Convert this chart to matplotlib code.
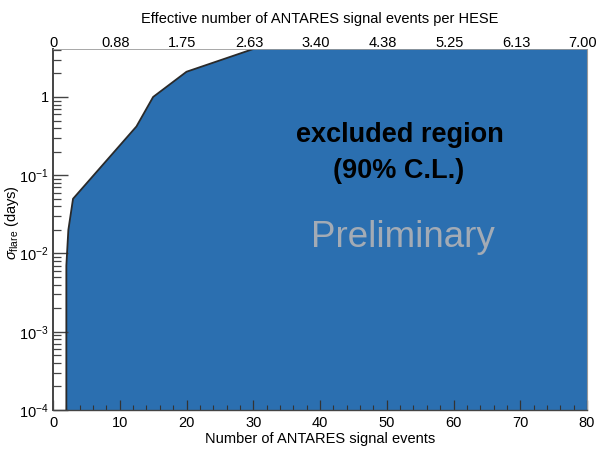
import matplotlib
matplotlib.use("Agg")
import matplotlib.pyplot as plt
import matplotlib.transforms as mtransforms
from matplotlib.ticker import LogLocator, FixedLocator, NullFormatter

plt.rcParams['font.family'] = ['Liberation Sans', 'DejaVu Sans']
plt.rcParams['mathtext.fontset'] = 'custom'
plt.rcParams['mathtext.rm'] = 'Liberation Sans'
plt.rcParams['mathtext.it'] = 'Liberation Sans:italic'

# exclusion contour: signal events vs flare width
n_events = [2.0, 2.0, 2.3, 3.0, 12.5, 15.0, 20.0, 30.0]
sigma_flare = [1e-4, 0.007, 0.02, 0.05, 0.42, 1.0, 2.1, 4.1]

x_ticks = [0, 10, 20, 30, 40, 50, 60, 70, 80]
top_labels = ['0', '0.88', '1.75', '2.63', '3.40', '4.38', '5.25', '6.13', '7.00']

x_min, x_max = 0, 80
y_min, y_max = 1e-4, 4.1

fill_col = '#2b6fb0'
axis_col = '#444444'

fig = plt.figure(figsize=(5.96, 4.57), dpi=100)
ax = fig.add_axes([53/596, 1 - 410/457, 534/596, 361/457])

# shaded region to the right of the contour
poly_x = list(n_events) + [x_max, x_max]
poly_y = list(sigma_flare) + [y_max, y_min]
ax.fill(poly_x, poly_y, color=fill_col, lw=0, zorder=1)
ax.plot(n_events, sigma_flare, color='#2a2a2a', lw=1.3, zorder=2)

ax.set_xlim(x_min, x_max)
ax.set_yscale('log')
ax.set_ylim(y_min, y_max)

# ticks
ax.xaxis.set_major_locator(FixedLocator(x_ticks))
ax.xaxis.set_minor_locator(FixedLocator(range(0, 81, 2)))
ax.yaxis.set_minor_locator(LogLocator(base=10, subs=range(2, 10), numticks=20))
ax.yaxis.set_minor_formatter(NullFormatter())
ax.set_yticks([1e-4, 1e-3, 1e-2, 1e-1, 1])
ax.set_yticklabels([r'$10^{-4}$', r'$10^{-3}$', r'$10^{-2}$', r'$10^{-1}$', '1'])

ax.tick_params(axis='x', which='major', direction='in', length=7, width=0.9,
               color='#333333', labelsize=10.5, pad=4, top=False)
ax.tick_params(axis='x', which='minor', direction='in', length=3.5, width=0.8,
               color='#333333', top=False)
ax.tick_params(axis='y', which='major', direction='in', length=11, width=1.0,
               color=axis_col, labelsize=10.5, pad=3, right=False)
ax.tick_params(axis='y', which='minor', direction='in', length=6, width=0.9,
               color=axis_col, right=False)

ax.spines['left'].set_color(axis_col)
ax.spines['left'].set_linewidth(1.4)
ax.spines['bottom'].set_color(axis_col)
ax.spines['bottom'].set_linewidth(1.0)
ax.spines['right'].set_color('#999999')
ax.spines['right'].set_linewidth(0.8)
ax.spines['top'].set_color('#999999')
ax.spines['top'].set_linewidth(0.6)

ax.set_xlabel('Number of ANTARES signal events', fontsize=10.5, labelpad=2)
ax.set_ylabel(r'$\sigma_{\mathrm{flare}}$ (days)', fontsize=10.5)
ax.yaxis.set_label_coords(-0.06, 0.52)

# upper axis with effective events per HESE
top = ax.twiny()
top.set_xlim(x_min, x_max)
top.set_xticks(x_ticks)
top.set_xticklabels(top_labels)
top.tick_params(axis='x', length=0, labelsize=10.5, pad=-1)
shift = mtransforms.ScaledTranslation(-4/100, 0, fig.dpi_scale_trans)
for lbl in top.get_xticklabels()[1:]:
    lbl.set_transform(lbl.get_transform() + shift)
for s in top.spines.values():
    s.set_visible(False)
top.set_xlabel('Effective number of ANTARES signal events per HESE',
               fontsize=10.5, labelpad=10)

ax.text(0.65, 0.761, 'excluded region', transform=ax.transAxes, ha='center',
        va='center', fontsize=19.5, fontweight='bold', color='black')
ax.text(0.648, 0.661, '(90% C.L.)', transform=ax.transAxes, ha='center',
        va='center', fontsize=19.5, fontweight='bold', color='black')
ax.text(0.655, 0.477, 'Preliminary', transform=ax.transAxes, ha='center',
        va='center', fontsize=26.5, color='#a3abb5')

fig.savefig('out.png', dpi=100)
